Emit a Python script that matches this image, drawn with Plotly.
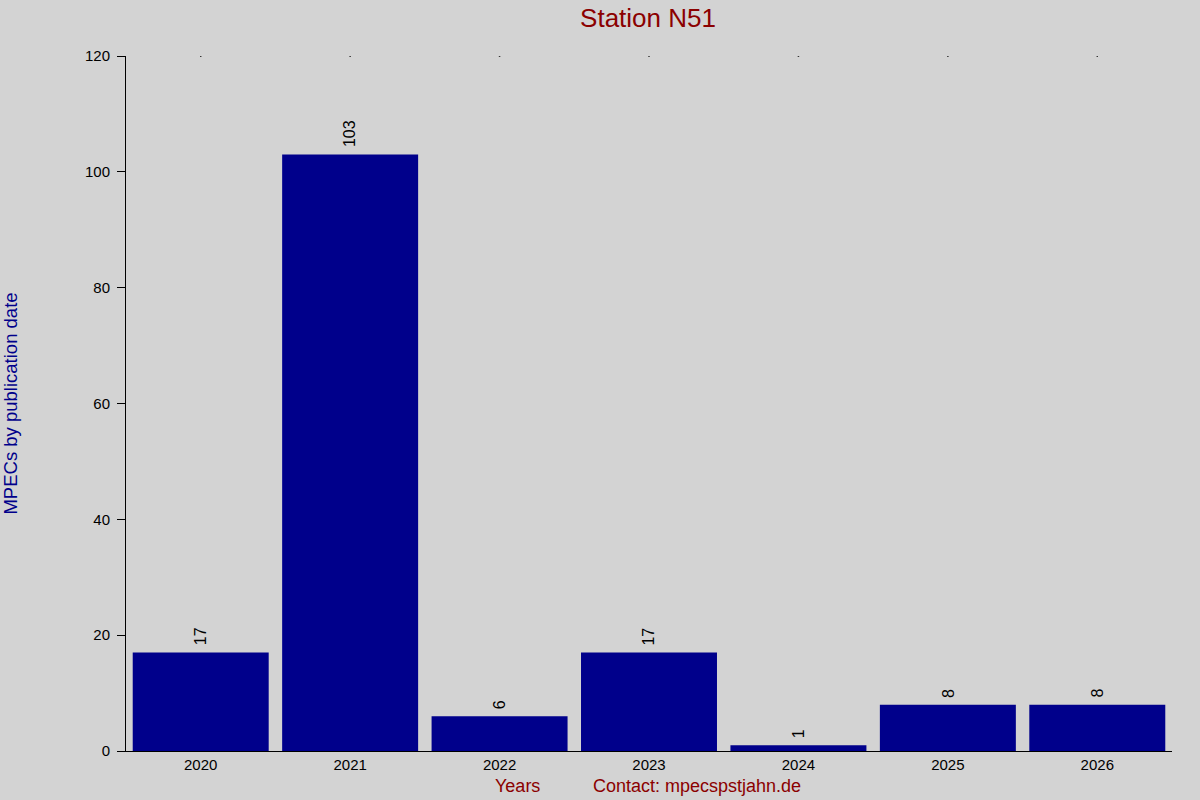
import plotly.graph_objects as go

years = ["2020", "2021", "2022", "2023", "2024", "2025", "2026"]
counts = [17, 103, 6, 17, 1, 8, 8]
y_ticks = [0, 20, 40, 60, 80, 100, 120]

fig = go.Figure()
fig.add_trace(go.Bar(
    x=years, y=counts, width=0.91,
    marker=dict(color="#00008B", line=dict(width=0)),
    hoverinfo="x+y",
))
fig.add_trace(go.Scatter(
    x=years, y=[120] * len(years), mode="markers",
    marker=dict(color="black", size=1.5, symbol="square"), hoverinfo="skip",
))
for i, c in enumerate(counts):
    fig.add_annotation(x=i, y=c, text=str(c), textangle=-90, showarrow=False,
                       xanchor="center", yanchor="bottom", yshift=5,
                       font=dict(family="Liberation Sans, Arial", size=16, color="black"))
fig.update_layout(
    width=1200, height=800,
    paper_bgcolor="#D3D3D3", plot_bgcolor="#D3D3D3",
    margin=dict(l=126, r=28, t=56, b=49, autoexpand=False),
    showlegend=False,
    font=dict(family="Liberation Sans, Arial", size=15, color="black"),
    title=dict(text="Station N51", x=0.54, xref="container", xanchor="center",
               y=0.978, yanchor="middle",
               font=dict(size=26, color="#8B0000")),
    xaxis=dict(type="category", range=[-0.5, 6.5], showline=True, linecolor="black",
               linewidth=1, ticks="", showgrid=False, zeroline=False,
               tickfont=dict(size=15), automargin=False),
    yaxis=dict(range=[0, 120], tickvals=y_ticks, showline=True, linecolor="black",
               linewidth=1, ticks="outside", ticklen=8, tickcolor="black", tickwidth=1,
               ticklabelstandoff=4, automargin=False,
               showgrid=False, zeroline=False, tickfont=dict(size=15),
               title=dict(text="MPECs by publication date", font=dict(size=18.5, color="#00008B"),
                          standoff=66)),
    bargap=0.09,
)
fig.add_annotation(text="Years", xref="paper", yref="paper", x=(517 - 126) / 1046, y=-0.05,
                   yanchor="middle", showarrow=False, font=dict(size=18, color="#8B0000"))
fig.add_annotation(text="Contact: mpecspstjahn.de", xref="paper", yref="paper",
                   x=(697 - 126) / 1046, y=-0.05, yanchor="middle", showarrow=False,
                   font=dict(size=18, color="#8B0000"))
fig.write_html("out.html", config={"displayModeBar": False},
               post_script="document.body.style.margin='0';document.body.style.overflow='hidden';")
